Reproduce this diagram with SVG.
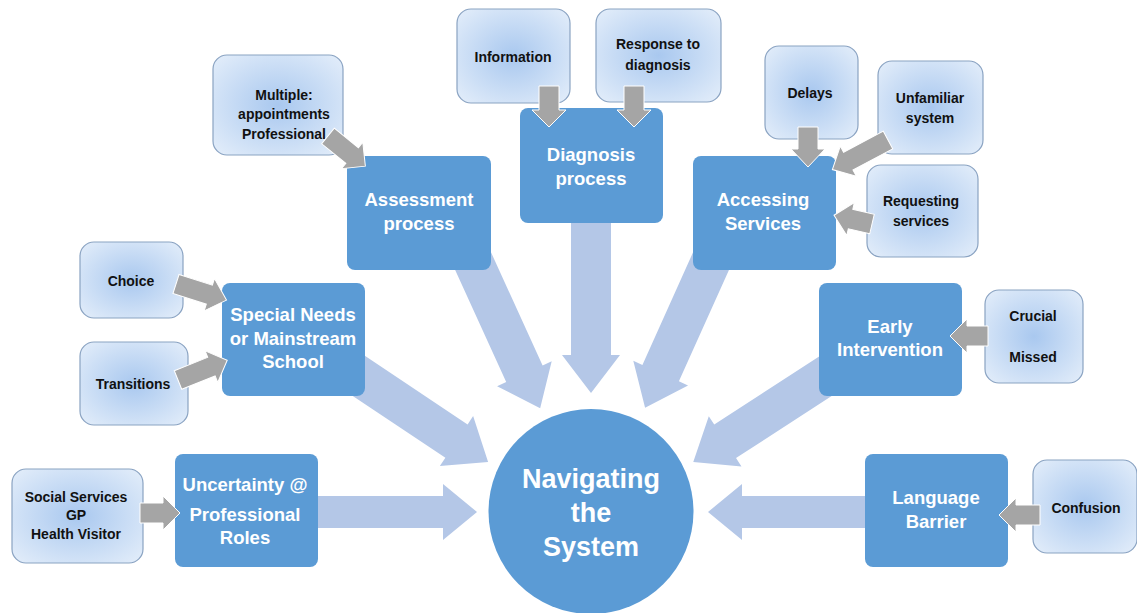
<svg xmlns="http://www.w3.org/2000/svg" width="1137" height="613" viewBox="0 0 1137 613">
<defs>
<radialGradient id="lg" cx="50%" cy="50%" r="70%">
<stop offset="0" stop-color="#a9c8ef"/>
<stop offset="1" stop-color="#e4eefa"/>
</radialGradient>
<style>
.main{fill:#5b9bd5;}
.light{fill:url(#lg);stroke:#8aa3c2;stroke-width:1.2;}
.big{fill:#b4c7e7;}
.gray{fill:#a5a5a5;stroke:#ffffff;stroke-width:1;}
.mt{font-family:"Liberation Sans",Arial,sans-serif;font-weight:bold;font-size:18.5px;fill:#ffffff;text-anchor:middle;}
.st{font-family:"Liberation Sans",Arial,sans-serif;font-weight:bold;font-size:14px;fill:#111111;text-anchor:middle;}
.ct{font-family:"Liberation Sans",Arial,sans-serif;font-weight:bold;font-size:27px;fill:#ffffff;text-anchor:middle;}
</style>
</defs>
<rect width="1137" height="613" fill="#ffffff"/>

<g id="connectors-big">
<polygon class="big" transform="translate(591,215) rotate(90)" points="0,-20 140,-20 140,-29 178,0 140,29 140,20 0,20"/>
<polygon class="big" transform="translate(468,250) rotate(65.5)" points="0,-20 136,-20 136,-30 174,0 136,30 136,20 0,20"/>
<polygon class="big" transform="translate(716,250) rotate(114.2)" points="0,-20 135,-20 135,-30 173,0 135,30 135,20 0,20"/>
<polygon class="big" transform="translate(350,370) rotate(33.7)" points="0,-20 128,-20 128,-30 166,0 128,30 128,20 0,20"/>
<polygon class="big" transform="translate(835,370) rotate(147)" points="0,-20 131,-20 131,-30 169,0 131,30 131,20 0,20"/>
<polygon class="big" transform="translate(300,512) rotate(0)" points="0,-16 143,-16 143,-28 177,0 143,28 143,16 0,16"/>
<polygon class="big" transform="translate(880,512) rotate(180)" points="0,-16 138,-16 138,-28 172,0 138,28 138,16 0,16"/>
</g>

<g id="n-circle">
<circle cx="591" cy="511.5" r="102.5" fill="#5b9bd5"/>
<text class="ct" x="591" y="488">Navigating</text>
<text class="ct" x="591" y="522">the</text>
<text class="ct" x="591" y="556">System</text>
</g>

<g id="n-assessment">
<rect class="main" x="347" y="156" width="144" height="114" rx="8"/>
<text class="mt" x="419" y="206">Assessment</text>
<text class="mt" x="419" y="230">process</text>
</g>
<g id="n-diagnosis">
<rect class="main" x="520" y="108" width="143" height="115" rx="8"/>
<text class="mt" x="591" y="161">Diagnosis</text>
<text class="mt" x="591" y="185">process</text>
</g>
<g id="n-accessing">
<rect class="main" x="693" y="156" width="143" height="114" rx="8"/>
<text class="mt" x="763" y="206">Accessing</text>
<text class="mt" x="763" y="230">Services</text>
</g>
<g id="n-special">
<rect class="main" x="222" y="283" width="143" height="113" rx="8"/>
<text class="mt" x="293" y="321">Special Needs</text>
<text class="mt" x="293" y="345">or Mainstream</text>
<text class="mt" x="293" y="368">School</text>
</g>
<g id="n-early">
<rect class="main" x="819" y="283" width="143" height="113" rx="8"/>
<text class="mt" x="890" y="333">Early</text>
<text class="mt" x="890" y="356">Intervention</text>
</g>
<g id="n-uncertainty">
<rect class="main" x="175" y="454" width="143" height="113" rx="8"/>
<text class="mt" x="245" y="491">Uncertainty @</text>
<text class="mt" x="245" y="521">Professional</text>
<text class="mt" x="245" y="544">Roles</text>
</g>
<g id="n-language">
<rect class="main" x="865" y="454" width="143" height="113" rx="8"/>
<text class="mt" x="936" y="504">Language</text>
<text class="mt" x="936" y="528">Barrier</text>
</g>

<g id="n-multiple">
<rect class="light" x="213" y="55" width="130" height="100" rx="14"/>
<text class="st" x="284" y="100">Multiple:</text>
<text class="st" x="284" y="119">appointments</text>
<text class="st" x="284" y="139">Professional</text>
</g>
<g id="n-information">
<rect class="light" x="457" y="9" width="113" height="94" rx="14"/>
<text class="st" x="513" y="62">Information</text>
</g>
<g id="n-response">
<rect class="light" x="596" y="9" width="125" height="93" rx="14"/>
<text class="st" x="658" y="49">Response to</text>
<text class="st" x="658" y="70">diagnosis</text>
</g>
<g id="n-delays">
<rect class="light" x="765" y="46" width="93" height="93" rx="14"/>
<text class="st" x="810" y="98">Delays</text>
</g>
<g id="n-unfamiliar">
<rect class="light" x="878" y="61" width="105" height="93" rx="14"/>
<text class="st" x="930" y="103">Unfamiliar</text>
<text class="st" x="930" y="123">system</text>
</g>
<g id="n-requesting">
<rect class="light" x="867" y="165" width="111" height="92" rx="14"/>
<text class="st" x="921" y="206">Requesting</text>
<text class="st" x="921" y="226">services</text>
</g>
<g id="n-choice">
<rect class="light" x="80" y="242" width="103" height="76" rx="14"/>
<text class="st" x="131" y="286">Choice</text>
</g>
<g id="n-transitions">
<rect class="light" x="80" y="342" width="108" height="83" rx="14"/>
<text class="st" x="133" y="389">Transitions</text>
</g>
<g id="n-crucial">
<rect class="light" x="985" y="290" width="98" height="93" rx="14"/>
<text class="st" x="1033" y="321">Crucial</text>
<text class="st" x="1033" y="362">Missed</text>
</g>
<g id="n-social">
<rect class="light" x="12" y="469" width="131" height="94" rx="14"/>
<text class="st" x="76" y="502">Social Services</text>
<text class="st" x="76" y="520">GP</text>
<text class="st" x="76" y="539">Health Visitor</text>
</g>
<g id="n-confusion">
<rect class="light" x="1033" y="460" width="104" height="93" rx="14"/>
<text class="st" x="1086" y="513">Confusion</text>
</g>

<g id="connectors-small">
<polygon class="gray" transform="translate(328,136) rotate(38.9)" points="0,-10 31,-10 31,-17 48,0 31,17 31,10 0,10"/>
<polygon class="gray" transform="translate(549,86) rotate(90)" points="0,-10 24,-10 24,-17 41,0 24,17 24,10 0,10"/>
<polygon class="gray" transform="translate(634,86) rotate(90)" points="0,-10 24,-10 24,-17 41,0 24,17 24,10 0,10"/>
<polygon class="gray" transform="translate(808,127) rotate(90)" points="0,-10 22,-10 22,-17 40,0 22,17 22,10 0,10"/>
<polygon class="gray" transform="translate(888,140) rotate(152)" points="0,-10 45,-10 45,-17 63,0 45,17 45,10 0,10"/>
<polygon class="gray" transform="translate(872,224) rotate(193)" points="0,-10 22,-10 22,-17 39,0 22,17 22,10 0,10"/>
<polygon class="gray" transform="translate(176,284) rotate(17.7)" points="0,-10 35,-10 35,-17 53,0 35,17 35,10 0,10"/>
<polygon class="gray" transform="translate(178,380) rotate(-21.8)" points="0,-10 36,-10 36,-17 53,0 36,17 36,10 0,10"/>
<polygon class="gray" transform="translate(988,336) rotate(180)" points="0,-10 21,-10 21,-17 38,0 21,17 21,10 0,10"/>
<polygon class="gray" transform="translate(140,513) rotate(0)" points="0,-10 23,-10 23,-17 40,0 23,17 23,10 0,10"/>
<polygon class="gray" transform="translate(1040,515) rotate(180)" points="0,-10 24,-10 24,-17 41,0 24,17 24,10 0,10"/>
</g>
</svg>
